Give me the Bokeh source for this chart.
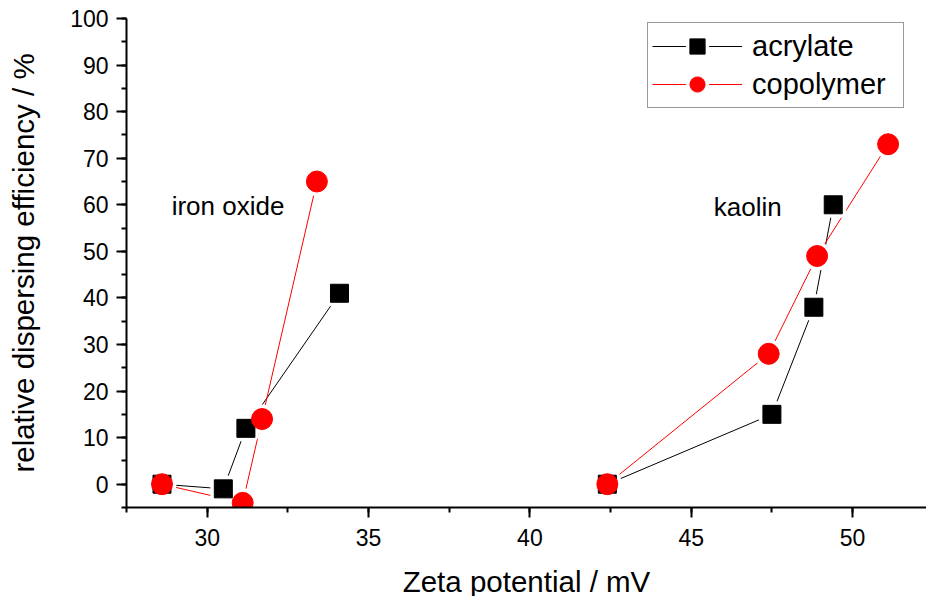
from bokeh.plotting import figure
from bokeh.models import (ColumnDataSource, Range1d, SingleIntervalTicker, Legend, LegendItem)
from bokeh.core.properties import value
from bokeh.embed import file_html
from bokeh.resources import INLINE

# ---- data ----
acrylate_iron_x = [28.6, 30.5, 31.2, 34.1]
acrylate_iron_y = [0, -1, 12, 41]
acrylate_kaolin_x = [42.4, 47.5, 48.8, 49.4]
acrylate_kaolin_y = [0, 15, 38, 60]

copolymer_iron_x = [28.6, 31.1, 31.7, 33.4]
copolymer_iron_y = [0, -4, 14, 65]
copolymer_kaolin_x = [42.4, 47.4, 48.9, 51.1]
copolymer_kaolin_y = [0, 28, 49, 73]

label_x = [28.9, 45.7]
label_y = [59.8, 59.5]
label_text = ["iron oxide", "kaolin"]

x_label = "Zeta potential / mV"
y_label = "relative dispersing efficiency / %"

FONT = "Liberation Sans"

p = figure(width=926, height=596, output_backend="svg", toolbar_location=None,
           x_range=Range1d(27.5, 52.29), y_range=Range1d(-5, 100),
           frame_width=800, frame_height=489,
           min_border_left=126, min_border_right=0, min_border_top=18, min_border_bottom=89)
p.outline_line_color = None
p.xgrid.visible = False
p.ygrid.visible = False
p.background_fill_color = "white"
p.border_fill_color = "white"

for ax in (p.xaxis[0], p.yaxis[0]):
    ax.axis_line_width = 2
    ax.axis_line_color = "black"
    ax.major_tick_line_width = 2
    ax.minor_tick_line_width = 2
    ax.major_tick_line_color = "black"
    ax.minor_tick_line_color = "black"
    ax.major_tick_out = 10
    ax.major_tick_in = 0
    ax.minor_tick_out = 5
    ax.minor_tick_in = 0
    ax.major_label_text_font = FONT
    ax.major_label_text_font_size = "23px"
    ax.major_label_text_color = "black"
    ax.axis_label_text_font = FONT
    ax.axis_label_text_font_size = "29.5px"
    ax.axis_label_text_font_style = "normal"
    ax.axis_label_text_color = "black"

p.xaxis[0].ticker = SingleIntervalTicker(interval=5, num_minor_ticks=2)
p.yaxis[0].ticker = SingleIntervalTicker(interval=10, num_minor_ticks=2)
p.xaxis[0].axis_label = x_label
p.yaxis[0].axis_label = y_label
p.xaxis[0].major_label_standoff = 11
p.yaxis[0].major_label_standoff = 8
p.xaxis[0].axis_label_standoff = 16
p.yaxis[0].axis_label_standoff = 27

acr_lines = ColumnDataSource(dict(xs=[acrylate_iron_x, acrylate_kaolin_x],
                                  ys=[acrylate_iron_y, acrylate_kaolin_y]))
cop_lines = ColumnDataSource(dict(xs=[copolymer_iron_x, copolymer_kaolin_x],
                                  ys=[copolymer_iron_y, copolymer_kaolin_y]))
acr_pts = ColumnDataSource(dict(x=acrylate_iron_x + acrylate_kaolin_x,
                                y=acrylate_iron_y + acrylate_kaolin_y))
cop_pts = ColumnDataSource(dict(x=copolymer_iron_x + copolymer_kaolin_x,
                                y=copolymer_iron_y + copolymer_kaolin_y))

acr_line = p.multi_line("xs", "ys", source=acr_lines, line_color="black", line_width=1)
cop_line = p.multi_line("xs", "ys", source=cop_lines, line_color="red", line_width=1)

acr_halo = p.scatter("x", "y", source=acr_pts, marker="square", size=18,
                     fill_color="white", line_color="white", line_width=8)
cop_halo = p.scatter("x", "y", source=cop_pts, marker="circle", size=21,
                     fill_color="white", line_color="white", line_width=8)
acr_mk = p.scatter("x", "y", source=acr_pts, marker="square", size=18,
                   fill_color="black", line_color="black", line_width=1)
cop_mk = p.scatter("x", "y", source=cop_pts, marker="circle", size=21,
                   fill_color="red", line_color="red", line_width=1)

p.text(x=label_x, y=label_y, text=label_text, text_font=value(FONT),
       text_font_size="26px", text_color="black", text_align="left",
       text_baseline="alphabetic")

legend = Legend(items=[
    LegendItem(label="acrylate", renderers=[acr_line, acr_halo, acr_mk]),
    LegendItem(label="copolymer", renderers=[cop_line, cop_halo, cop_mk]),
], location=(521, 399))
legend.label_text_font = FONT
legend.label_text_font_size = "29px"
legend.label_text_color = "black"
legend.border_line_color = "#333333"
legend.border_line_width = 1
legend.padding = 4
legend.spacing = 0
legend.margin = 0
legend.glyph_width = 90
legend.glyph_height = 38
legend.label_standoff = 10
legend.label_width = 147
legend.label_height = 38
legend.background_fill_alpha = 1
p.add_layout(legend, "center")

open("out.html", "w").write(file_html(p, INLINE))
